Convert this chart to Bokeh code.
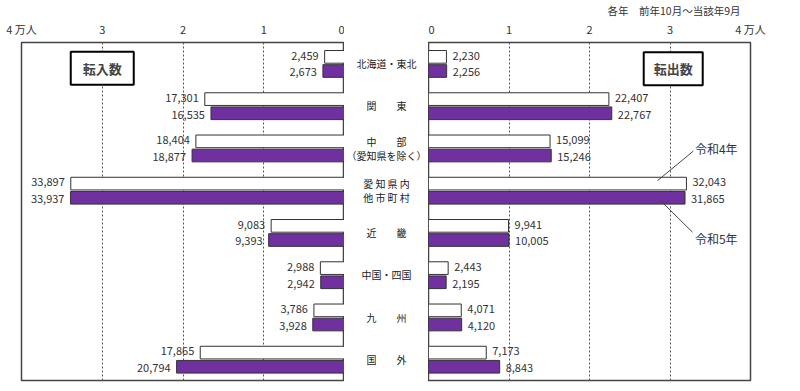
from bokeh.plotting import figure
from bokeh.layouts import row
from bokeh.models import (ColumnDataSource, FactorRange, Range1d, FixedTicker,
                          Label, Arrow)
from bokeh.transform import dodge
from bokeh.core.properties import value
from bokeh.embed import file_html
from bokeh.resources import INLINE

# ---------------- data ----------------
categories = ["北海道・東北", "関　　東", "中　　部\n（愛知県を除く）", "愛 知 県 内\n他 市 町 村",
              "近　　畿", "中国・四国", "九　　州", "国　　外"]
cat_keys = ["hokkaido", "kanto", "chubu", "aichi", "kinki", "chugoku", "kyushu", "kokugai"]
in_r4 = [2459, 17301, 18404, 33897, 9083, 2988, 3786, 17865]
in_r5 = [2673, 16535, 18877, 33937, 9393, 2942, 3928, 20794]
out_r4 = [2230, 22407, 15099, 32043, 9941, 2443, 4071, 7173]
out_r5 = [2256, 22767, 15246, 31865, 10005, 2195, 4120, 8843]
series_names = ["令和4年", "令和5年"]
tick_vals = [0, 10000, 20000, 30000, 40000]
tick_labels = ["0", "1", "2", "3", "4 万人"]
header = "各年　前年10月～当該年9月"

FONT = value("Noto Sans CJK JP")
PURPLE = "#7030A0"
EDGE = "#333333"

def fmt(v):
    return f"{v:,}"

src = ColumnDataSource(dict(
    cat=cat_keys, label=categories,
    in_r4=in_r4, in_r5=in_r5, out_r4=out_r4, out_r5=out_r5,
    in_r4_t=[fmt(v) for v in in_r4], in_r5_t=[fmt(v) for v in in_r5],
    out_r4_t=[fmt(v) for v in out_r4], out_r5_t=[fmt(v) for v in out_r5],
))

yr = FactorRange(factors=list(reversed(cat_keys)), range_padding=0)

H = 383
TOP = 38
BOT = 3

def panel(xr, width, left, right, title=None):
    p = figure(width=width, height=H, x_range=xr, y_range=yr, title=title,
               x_axis_location="above", output_backend="svg",
               toolbar_location=None, min_border_left=left, min_border_right=right,
               min_border_top=TOP, min_border_bottom=BOT)
    p.yaxis.visible = False
    p.xaxis.ticker = FixedTicker(ticks=tick_vals)
    p.xaxis.major_label_overrides = {t: l for t, l in zip(tick_vals, tick_labels)}
    p.xaxis.axis_line_color = None
    p.xaxis.major_tick_line_color = None
    p.xaxis.minor_tick_line_color = None
    p.xaxis.major_tick_out = 0
    p.xaxis.major_tick_in = 0
    p.xaxis.major_label_standoff = 6
    p.xaxis.major_label_text_font = "Noto Sans CJK JP"
    p.xaxis.major_label_text_font_size = "11px"
    p.xaxis.major_label_text_color = "#333333"
    p.ygrid.grid_line_color = None
    p.xgrid.ticker = FixedTicker(ticks=tick_vals[1:-1])
    p.xgrid.grid_line_color = "#555555"
    p.xgrid.grid_line_dash = "2 2"
    p.xgrid.grid_line_width = 1
    p.outline_line_color = "#444444"
    p.outline_line_width = 1.5
    p.background_fill_color = "white"
    p.border_fill_color = "white"
    return p

BH = 0.30
D4 = 0.16
D5 = -0.175

# ---------------- left panel (転入) ----------------
pl = panel(Range1d(40000, 0), 344, 21, 0)
pl.hbar(y=dodge("cat", D4, range=yr), left=0, right="in_r4", height=BH, source=src,
        fill_color="white", line_color=EDGE, line_width=1)
pl.hbar(y=dodge("cat", D5, range=yr), left=0, right="in_r5", height=BH, source=src,
        fill_color=PURPLE, line_color=EDGE, line_width=1)
pl.text(x="in_r4", y=dodge("cat", D4 + 0.03, range=yr), text="in_r4_t", source=src,
        x_offset=-6, text_align="right", text_baseline="middle",
        text_font=FONT, text_font_size="11px", text_color="#333333")
pl.text(x="in_r5", y=dodge("cat", D5 - 0.03, range=yr), text="in_r5_t", source=src,
        x_offset=-6, text_align="right", text_baseline="middle",
        text_font=FONT, text_font_size="11px", text_color="#333333")
pl.add_layout(Label(x=30000, y=7.39, text="転入数", text_align="center",
                    text_baseline="middle", text_font="Noto Sans CJK JP",
                    text_font_size="13px", text_font_style="bold",
                    border_line_color="black", border_line_width=2,
                    background_fill_color="white", padding=(12, 7)))

# ---------------- middle (categories) ----------------
pm = figure(width=84, height=H, x_range=Range1d(0, 1), y_range=yr,
            output_backend="svg", toolbar_location=None,
            min_border_left=0, min_border_right=0,
            min_border_top=TOP, min_border_bottom=BOT)
pm.axis.visible = False
pm.grid.grid_line_color = None
pm.outline_line_color = None
pm.text(x=0.5, y="cat", text="label", source=src, text_align="center",
        text_baseline="middle", text_font=FONT, text_font_size="10px",
        text_color="#222222", text_line_height=0.95)

# ---------------- right panel (転出) ----------------
pr = panel(Range1d(0, 40000), 342, 0, 20, title=header)
pr.title.align = "right"
pr.title.offset = 10
pr.title.standoff = 0
pr.title.text_font = "Noto Sans CJK JP"
pr.title.text_font_size = "10.5px"
pr.title.text_font_style = "normal"
pr.title.text_color = "#333333"

pr.hbar(y=dodge("cat", D4, range=yr), left=0, right="out_r4", height=BH, source=src,
        fill_color="white", line_color=EDGE, line_width=1)
pr.hbar(y=dodge("cat", D5, range=yr), left=0, right="out_r5", height=BH, source=src,
        fill_color=PURPLE, line_color=EDGE, line_width=1)
pr.text(x="out_r4", y=dodge("cat", D4 + 0.03, range=yr), text="out_r4_t", source=src,
        x_offset=6, text_align="left", text_baseline="middle",
        text_font=FONT, text_font_size="11px", text_color="#333333")
pr.text(x="out_r5", y=dodge("cat", D5 - 0.03, range=yr), text="out_r5_t", source=src,
        x_offset=6, text_align="left", text_baseline="middle",
        text_font=FONT, text_font_size="11px", text_color="#333333")
pr.add_layout(Label(x=30400, y=7.38, text="転出数", text_align="center",
                    text_baseline="middle", text_font="Noto Sans CJK JP",
                    text_font_size="13px", text_font_style="bold",
                    border_line_color="black", border_line_width=2,
                    background_fill_color="white", padding=(10, 7)))
# series annotations
pr.add_layout(Arrow(x_start=28450, y_start=4.73, x_end=32900, y_end=5.43, end=None,
                    line_color="#444444", line_width=1))
pr.add_layout(Arrow(x_start=28700, y_start=4.28, x_end=32800, y_end=3.51, end=None,
                    line_color="#444444", line_width=1))
pr.add_layout(Label(x=33100, y=5.5, text=series_names[0], text_align="left",
                    text_baseline="middle", text_font="Noto Sans CJK JP",
                    text_font_size="12px", text_color="#333333"))
pr.add_layout(Label(x=33100, y=3.35, text=series_names[1], text_align="left",
                    text_baseline="middle", text_font="Noto Sans CJK JP",
                    text_font_size="12px", text_color="#333333"))

layout = row(pl, pm, pr, spacing=0)
open("out.html", "w").write(file_html(layout, INLINE))
